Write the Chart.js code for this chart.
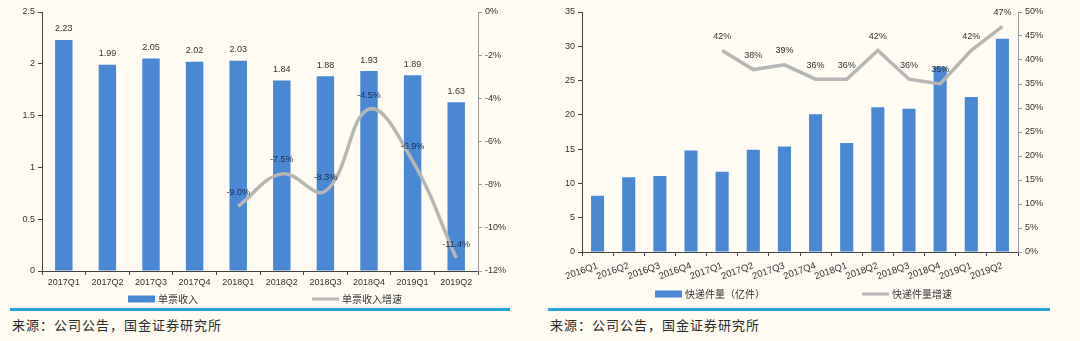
<!DOCTYPE html>
<html>
<head>
<meta charset="utf-8">
<script src="https://cdn.jsdelivr.net/npm/chart.js@4.4.1/dist/chart.umd.min.js"></script>
<style>
  body { margin: 0; background: #fdfbf2; width: 1080px; height: 341px; overflow: hidden; position: relative; }
  .box { position: absolute; top: 0; width: 540px; height: 305px; }
  .rule { position: absolute; top: 308px; height: 3px; background: #2ba5d6; }
  .src { position: absolute; top: 317px; font: 13px/16px "Noto Sans CJK SC", sans-serif; color: #2b2b2b; letter-spacing: 1px; }
</style>
</head>
<body>
<div class="box" style="left:0"><canvas id="left" width="540" height="305"></canvas></div>
<div class="box" style="left:540px"><canvas id="right" width="540" height="305"></canvas></div>
<div class="rule" style="left:10px;width:500px"></div>
<div class="rule" style="left:548px;width:502px"></div>
<div class="src" style="left:12px">来源：公司公告，国金证券研究所</div>
<div class="src" style="left:550px">来源：公司公告，国金证券研究所</div>
<script>
// 左图：单票收入
const quarters1 = ['2017Q1','2017Q2','2017Q3','2017Q4','2018Q1','2018Q2','2018Q3','2018Q4','2019Q1','2019Q2'];
const ticketIncome = [2.23, 1.99, 2.05, 2.02, 2.03, 1.84, 1.88, 1.93, 1.89, 1.63];
const ticketGrowth = [null, null, null, null, -9.0, -7.5, -8.3, -4.5, -6.9, -11.4];

// 右图：快递件量
const quarters2 = ['2016Q1','2016Q2','2016Q3','2016Q4','2017Q1','2017Q2','2017Q3','2017Q4',
                   '2018Q1','2018Q2','2018Q3','2018Q4','2019Q1','2019Q2'];
const parcelVolume = [8.2, 10.9, 11.1, 14.8, 11.7, 14.9, 15.4, 20.1, 15.9, 21.1, 20.9, 27.0, 22.6, 31.1];
const parcelGrowth = [null, null, null, null, 42, 38, 39, 36, 36, 42, 36, 35, 42, 47];

const BLUE = '#4b88d3';
const GREY = '#b6b6b4';
const FONT = 'Arial, "Liberation Sans", sans-serif';
const CJK = '"Noto Sans CJK SC", sans-serif';

Chart.defaults.font.family = FONT;
Chart.defaults.font.size = 9;
Chart.defaults.color = '#333';
Chart.defaults.animation = false;

// 数值标签
const valueLabels = {
  id: 'valueLabels',
  afterDatasetsDraw(chart) {
    const ctx = chart.ctx;
    chart.data.datasets.forEach((ds, i) => {
      if (!ds.fmt) return;
      const meta = chart.getDatasetMeta(i);
      ctx.save();
      ctx.font = '9px ' + FONT;
      ctx.fillStyle = ds.labelColor || '#333';
      ctx.textAlign = 'center';
      ctx.textBaseline = 'middle';
      meta.data.forEach((el, j) => {
        const v = ds.data[j];
        if (v == null) return;
        ctx.fillText(ds.fmt(v), el.x, el.y - ds.labelGap);
      });
      ctx.restore();
    });
  }
};

// 图例
const bottomLegend = {
  id: 'bottomLegend',
  afterDraw(chart, args, opts) {
    const ctx = chart.ctx;
    ctx.save();
    ctx.font = '10px ' + CJK;
    ctx.textBaseline = 'middle';
    chart.data.datasets.forEach((ds, i) => {
      const x = opts.xs[i], y = opts.y;
      if (ds.type === 'line') {
        ctx.fillStyle = ds.borderColor;
        ctx.fillRect(x, y - 1.5, 27, 3);
      } else {
        ctx.fillStyle = ds.backgroundColor;
        ctx.fillRect(x, y - 3.5, 27, 7);
      }
      ctx.fillStyle = '#333';
      ctx.fillText(ds.label, x + 30, y);
    });
    ctx.restore();
  }
};

function makeChart(id, labels, bars, line, barLabel, lineLabel, cfg) {
  new Chart(document.getElementById(id), {
    data: {
      labels: labels,
      datasets: [{
        type: 'bar',
        label: barLabel,
        data: bars,
        backgroundColor: BLUE,
        barPercentage: cfg.barPct,
        categoryPercentage: 1,
        yAxisID: 'y',
        order: 1,
        fmt: cfg.barFmt,
        labelGap: 11,
        labelColor: '#333'
      }, {
        type: 'line',
        label: lineLabel,
        data: line,
        borderColor: GREY,
        borderWidth: 3.5,
        pointRadius: 0,
        tension: cfg.tension,
        yAxisID: 'y1',
        order: 0,
        fmt: cfg.lineFmt,
        labelGap: 14,
        labelColor: cfg.lineLabelColor
      }]
    },
    options: {
      responsive: false,
      layout: { padding: { top: 12, left: 0, right: 0, bottom: 0 } },
      plugins: {
        legend: { display: false },
        tooltip: { enabled: false },
        bottomLegend: { xs: cfg.legendXs, y: cfg.legendY }
      },
      scales: {
        x: {
          offset: true,
          grid: { display: true, drawOnChartArea: false, offset: true, tickLength: 4, color: '#444' },
          border: { color: '#444' },
          ticks: { padding: cfg.xPad, autoSkip: false, minRotation: cfg.rot, maxRotation: cfg.rot, font: { size: cfg.xFont } },
          afterFit: s => { s.height = cfg.xHeight; }
        },
        y: {
          position: 'left',
          min: 0, max: cfg.yMax,
          ticks: { stepSize: cfg.yStep, padding: 3, callback: v => String(+v.toFixed(1)) },
          grid: { drawOnChartArea: false, tickLength: 4, color: '#444' },
          border: { color: '#444' },
          afterFit: s => { s.width = 42; }
        },
        y1: {
          position: 'right',
          min: cfg.y1Min, max: cfg.y1Max,
          ticks: { stepSize: cfg.y1Step, padding: 3, callback: v => v + '%' },
          grid: { drawOnChartArea: false, tickLength: 4, color: '#999' },
          border: { color: '#999' },
          afterFit: s => { s.width = 62; }
        }
      }
    },
    plugins: [valueLabels, bottomLegend]
  });
}

makeChart('left', quarters1, ticketIncome, ticketGrowth, '单票收入', '单票收入增速', {
  barPct: 0.4, tension: 0.4, rot: 0, xHeight: 34, xPad: 2, xFont: 9,
  yMax: 2.5, yStep: 0.5, y1Min: -12, y1Max: 0, y1Step: 2,
  barFmt: v => v.toFixed(2).replace(/0$/, '').replace(/\.$/, ''),
  lineFmt: v => v.toFixed(1) + '%',
  lineLabelColor: '#1c2b4f',
  legendXs: [128, 312], legendY: 299
});

makeChart('right', quarters2, parcelVolume, parcelGrowth, '快递件量（亿件）', '快递件量增速', {
  barPct: 0.42, tension: 0, rot: 20, xHeight: 53, xPad: 4, xFont: 9.5,
  yMax: 35, yStep: 5, y1Min: 0, y1Max: 50, y1Step: 5,
  barFmt: null,
  lineFmt: v => v + '%',
  lineLabelColor: '#333',
  legendXs: [115, 322], legendY: 294
});
</script>
</body>
</html>
